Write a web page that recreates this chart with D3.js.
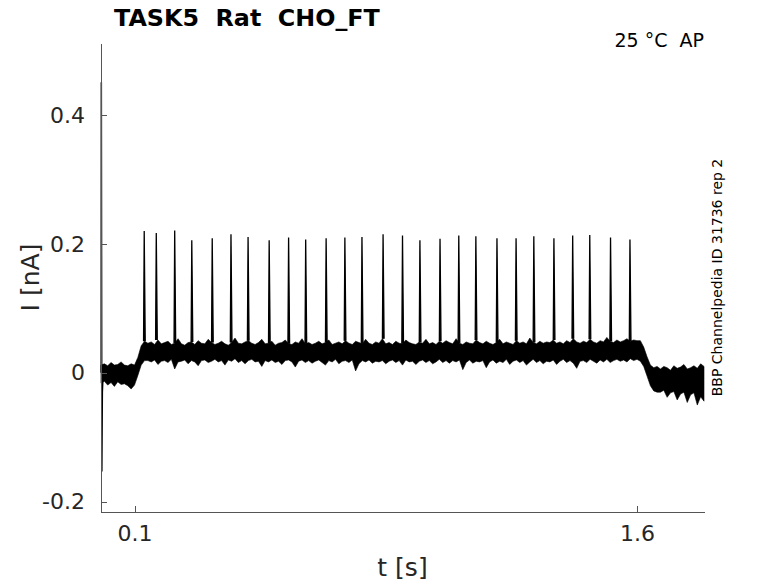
<!DOCTYPE html>
<html>
<head>
<meta charset="utf-8">
<script src="https://cdn.jsdelivr.net/npm/d3@7"></script>
<style>
body { margin: 0; background: #fff; }
svg text { font-family: "DejaVu Sans", sans-serif; white-space: pre; }
</style>
</head>
<body>
<svg id="chart"></svg>
<script>
// tick values
var xTicks = [0.1, 1.6];
var yTicks = [-0.2, 0, 0.2, 0.4];

// action potential spikes (time in s, peak in nA)
var spikeTimes = [0.129, 0.165, 0.220, 0.271, 0.332, 0.388, 0.439, 0.502, 0.560, 0.611,
                  0.672, 0.728, 0.779, 0.842, 0.900, 0.952, 1.012, 1.068, 1.119, 1.182,
                  1.239, 1.292, 1.352, 1.408, 1.459, 1.521, 1.579];
var spikePeaks = [0.220, 0.217, 0.221, 0.206, 0.209, 0.215, 0.211, 0.206, 0.210, 0.207,
                  0.209, 0.210, 0.211, 0.215, 0.213, 0.206, 0.208, 0.213, 0.212, 0.209,
                  0.209, 0.212, 0.209, 0.213, 0.214, 0.210, 0.207];

// capacitive transient at stimulus onset
var transientT = [0.0005, 0.001, 0.0025, 0.004, 0.006];
var transientI = [0.000, 0.451, -0.153, -0.030, -0.005];

// noisy current trace, upper and lower envelope, one sample every 10 ms from t = 0
var sampleInterval = 0.01;
var traceHi = [
  0.012, 0.014, 0.011, 0.016, 0.012, 0.013, 0.017, 0.012, 0.011, 0.014, 0.012,
  0.024, 0.042, 0.049,
  0.046, 0.048, 0.044, 0.051, 0.045, 0.047, 0.049, 0.044, 0.046, 0.053,
  0.045, 0.043, 0.047, 0.048, 0.044, 0.050, 0.046, 0.045, 0.052, 0.047,
  0.044, 0.046, 0.049, 0.045, 0.043, 0.047, 0.054, 0.046, 0.045, 0.048,
  0.050, 0.046, 0.044, 0.047, 0.052, 0.045, 0.046, 0.049, 0.043, 0.046,
  0.047, 0.051, 0.045, 0.044, 0.048, 0.046, 0.053, 0.045, 0.047, 0.044,
  0.046, 0.049, 0.045, 0.047, 0.051, 0.044, 0.046, 0.048, 0.045, 0.050,
  0.046, 0.044, 0.049, 0.047, 0.045, 0.052, 0.046, 0.044, 0.048, 0.046,
  0.053, 0.045, 0.047, 0.044, 0.049, 0.046, 0.045, 0.051, 0.047, 0.045,
  0.044, 0.048, 0.046, 0.052, 0.045, 0.047, 0.044, 0.049, 0.046, 0.050,
  0.047, 0.045, 0.053, 0.046, 0.044, 0.048, 0.046, 0.045, 0.051, 0.047,
  0.045, 0.049, 0.046, 0.044, 0.047, 0.052, 0.045, 0.048, 0.046, 0.044,
  0.050, 0.046, 0.048, 0.045, 0.054, 0.047, 0.045, 0.049, 0.046, 0.048,
  0.047, 0.051, 0.046, 0.048, 0.045, 0.050, 0.047, 0.053, 0.048, 0.046,
  0.049, 0.047, 0.052, 0.048, 0.046, 0.050, 0.048, 0.055, 0.049, 0.047,
  0.051, 0.048, 0.050, 0.053, 0.049, 0.051, 0.050,
  0.050, 0.040, 0.025, 0.012, 0.008, 0.010,
  0.006, 0.010, 0.008, 0.004, 0.011, 0.007, 0.009, 0.013, 0.006, 0.008, 0.011, 0.007, 0.014, 0.010
];
var traceLo = [
  -0.016, -0.013, -0.019, -0.015, -0.021, -0.014, -0.018, -0.017, -0.020, -0.025, -0.019,
  -0.004, 0.012, 0.019,
  0.019, 0.017, 0.020, 0.013, 0.018, 0.019, 0.016, 0.021, 0.006, 0.017,
  0.018, 0.020, 0.014, 0.019, 0.017, 0.011, 0.019, 0.020, 0.016, 0.018,
  0.021, 0.017, 0.019, 0.012, 0.020, 0.018, 0.022, 0.016, 0.019, 0.014,
  0.019, 0.021, 0.017, 0.018, 0.010, 0.019, 0.017, 0.020, 0.016, 0.018,
  0.013, 0.019, 0.020, 0.017, 0.009, 0.018, 0.020, 0.016, 0.019, 0.015,
  0.018, 0.020, 0.016, 0.012, 0.019, 0.017, 0.021, 0.014, 0.018, 0.019,
  0.016, 0.020, 0.003, 0.014, 0.019, 0.017, 0.020, 0.015, 0.018, 0.017,
  0.019, 0.014, 0.018, 0.020, 0.016, 0.019, 0.012, 0.020, 0.017, 0.018,
  0.013, 0.018, 0.020, 0.016, 0.019, 0.014, 0.017, 0.021, 0.016, 0.019,
  0.015, 0.019, 0.017, 0.020, 0.005, 0.016, 0.020, 0.015, 0.018, 0.017,
  0.019, 0.008, 0.017, 0.020, 0.015, 0.018, 0.016, 0.021, 0.013, 0.018,
  0.020, 0.016, 0.019, 0.012, 0.017, 0.021, 0.016, 0.019, 0.014, 0.018,
  0.017, 0.020, 0.013, 0.018, 0.021, 0.016, 0.019, 0.015, 0.007, 0.018,
  0.019, 0.016, 0.021, 0.018, 0.015, 0.020, 0.017, 0.021, 0.016, 0.019,
  0.021, 0.018, 0.020, 0.017, 0.022, 0.019, 0.021,
  0.018, 0.010, -0.005, -0.020, -0.028, -0.030,
  -0.030, -0.027, -0.038, -0.031, -0.029, -0.042, -0.033, -0.030, -0.046, -0.034, -0.031, -0.050, -0.037, -0.044
];

var width = 778,
    height = 583;
var margin = {top: 43, right: 74, bottom: 71, left: 101};
var plotW = width - margin.left - margin.right,
    plotH = height - margin.top - margin.bottom;

var svg = d3.select("#chart").attr("width", width).attr("height", height);

var x = d3.scaleLinear().domain([0, 1.8]).range([0, plotW]);
var y = d3.scaleLinear().domain([-0.216, 0.512]).range([plotH, 0]);

var g = svg.append("g").attr("transform", "translate(" + margin.left + "," + margin.top + ")");

var fmt = function(d) { return d === 0 ? "0" : String(d); };

// trace
var trace = traceHi.map(function(h, i) {
  return {t: i * sampleInterval, hi: h, lo: traceLo[i]};
});

var area = d3.area()
  .x(function(d) { return x(d.t); })
  .y0(function(d) { return y(d.lo); })
  .y1(function(d) { return y(d.hi); });

g.append("path").datum(trace)
  .attr("d", area)
  .attr("fill", "#000")
  .attr("stroke", "#000")
  .attr("stroke-width", 0.6);

var line = d3.line()
  .x(function(d) { return x(d[0]); })
  .y(function(d) { return y(d[1]); });

// onset transient
g.append("path")
  .datum(transientT.map(function(t, i) { return [t, transientI[i]]; }))
  .attr("d", line)
  .attr("fill", "none")
  .attr("stroke", "#000")
  .attr("stroke-width", 1.5);

// spikes
spikeTimes.forEach(function(t, i) {
  var base = traceHi[Math.round(t / sampleInterval)];
  g.append("path")
    .datum([[t - 0.002, base], [t, spikePeaks[i]], [t + 0.003, base]])
    .attr("d", line)
    .attr("fill", "#000")
    .attr("stroke", "#000")
    .attr("stroke-width", 1.3)
    .attr("stroke-linejoin", "miter");
});

// axes
var xAxis = g.append("g")
  .attr("transform", "translate(0," + plotH + ")")
  .call(d3.axisBottom(x).tickValues(xTicks).tickFormat(fmt).tickSizeInner(-6).tickSizeOuter(0).tickPadding(13));
var yAxis = g.append("g")
  .call(d3.axisLeft(y).tickValues(yTicks).tickFormat(fmt).tickSizeInner(-6).tickSizeOuter(0).tickPadding(16));

[xAxis, yAxis].forEach(function(a) {
  a.select(".domain").attr("stroke", "#555").attr("shape-rendering", "crispEdges");
  a.selectAll(".tick line").attr("stroke", "#555").attr("shape-rendering", "crispEdges");
  a.selectAll(".tick text").attr("fill", "#262626").style("font-size", "22px");
});

// labels
svg.append("text").text("t [s]")
  .attr("x", margin.left + plotW / 2).attr("y", 576)
  .attr("text-anchor", "middle").attr("fill", "#262626").style("font-size", "25px");

svg.append("text").text("I [nA]")
  .attr("transform", "translate(39," + (margin.top + plotH / 2) + ") rotate(-90)")
  .attr("text-anchor", "middle").attr("fill", "#262626").style("font-size", "25px");

svg.append("text").text("TASK5  Rat  CHO_FT")
  .attr("x", 114).attr("y", 26)
  .attr("fill", "#000").style("font-size", "23.8px").style("font-weight", "bold");

svg.append("text").text("25 °C  AP")
  .attr("x", 704).attr("y", 47)
  .attr("text-anchor", "end").attr("fill", "#000").style("font-size", "19px");

svg.append("text").text("BBP Channelpedia ID 31736 rep 2")
  .attr("transform", "translate(722," + (margin.top + plotH / 2) + ") rotate(-90)")
  .attr("text-anchor", "middle").attr("fill", "#000").style("font-size", "14px");
</script>
</body>
</html>
